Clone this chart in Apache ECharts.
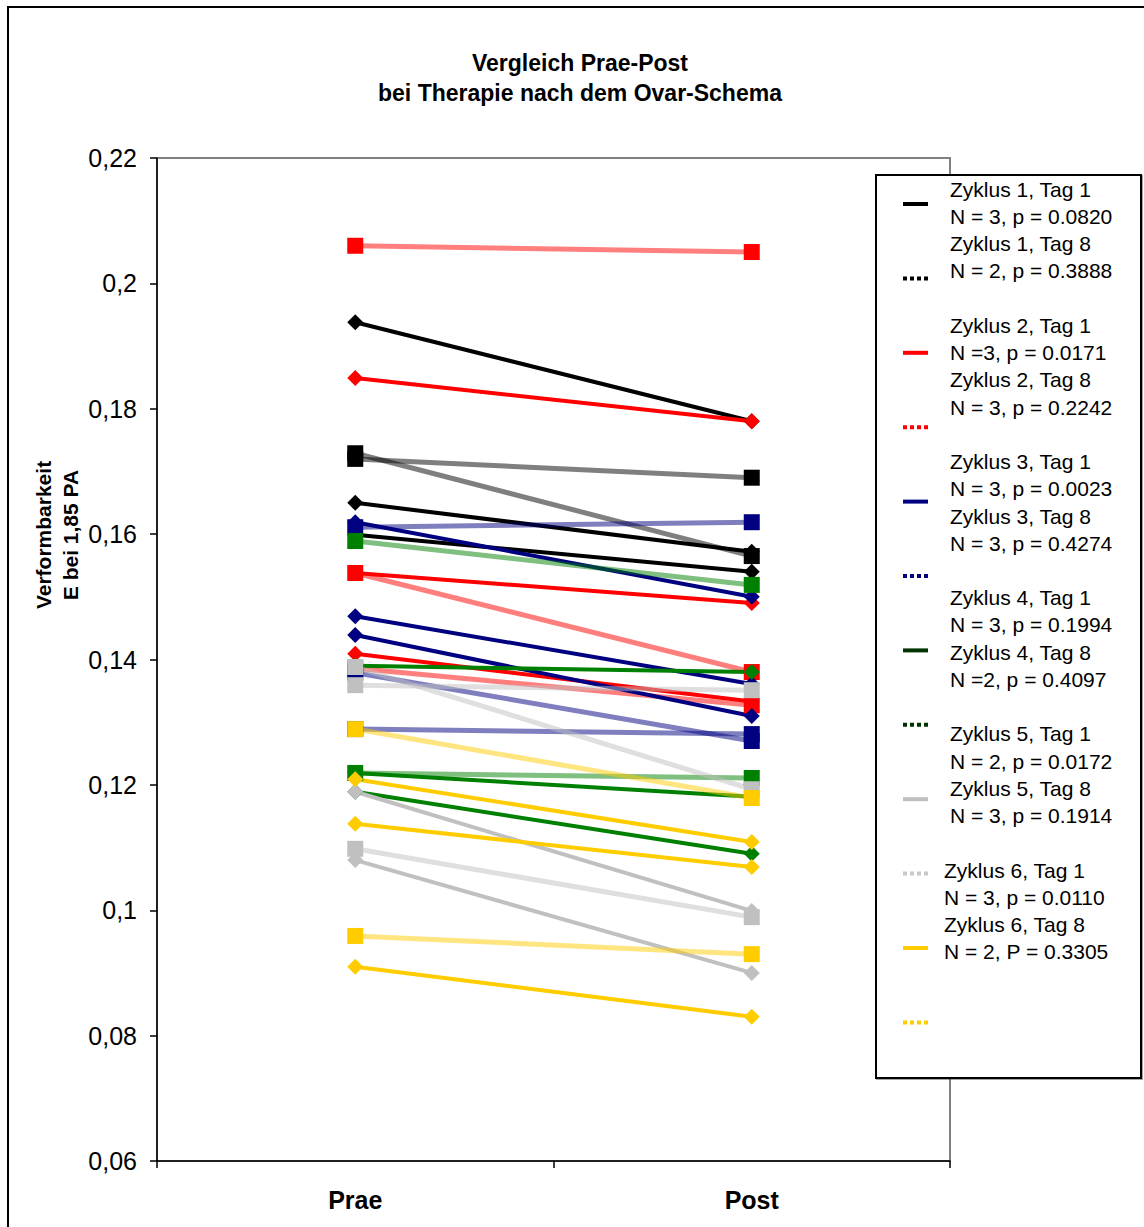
<!DOCTYPE html>
<html><head><meta charset="utf-8">
<script src="https://cdn.jsdelivr.net/npm/echarts@6/dist/echarts.min.js"></script>
<style>html,body{margin:0;padding:0;background:#fff}#c{width:1144px;height:1227px}</style>
</head><body><div id="c"></div>
<script>
// ---------- data ----------
const categories = ['Prae', 'Post'];
const yTickLabels = ['0,06', '0,08', '0,1', '0,12', '0,14', '0,16', '0,18', '0,2', '0,22'];
const legendNames = [
  'Zyklus 1, Tag 1', 'Zyklus 1, Tag 8',
  'Zyklus 2, Tag 1', 'Zyklus 2, Tag 8',
  'Zyklus 3, Tag 1', 'Zyklus 3, Tag 8',
  'Zyklus 4, Tag 1', 'Zyklus 4, Tag 8',
  'Zyklus 5, Tag 1', 'Zyklus 5, Tag 8',
  'Zyklus 6, Tag 1', 'Zyklus 6, Tag 8'
];
const legendStats = [
  'N = 3, p = 0.0820', 'N = 2, p = 0.3888',
  'N =3, p = 0.0171', 'N = 3, p = 0.2242',
  'N = 3, p = 0.0023', 'N = 3, p = 0.4274',
  'N = 3, p = 0.1994', 'N =2, p = 0.4097',
  'N = 2, p = 0.0172', 'N = 3, p = 0.1914',
  'N = 3, p = 0.0110', 'N = 2, P = 0.3305'
];
// each pair = [Prae, Post]
const z1t1 = [[0.1938, 0.1780], [0.1650, 0.1572], [0.1599, 0.1540]];
const z1t8 = [[0.1729, 0.1565], [0.1720, 0.1690]];
const z2t1 = [[0.1849, 0.1780], [0.1538, 0.1490], [0.1409, 0.1333]];
const z2t8 = [[0.2060, 0.2050], [0.1538, 0.1380], [0.1386, 0.1327]];
const z3t1 = [[0.1619, 0.1500], [0.1469, 0.1361], [0.1439, 0.1310]];
const z3t8 = [[0.1611, 0.1619], [0.1379, 0.1270], [0.1289, 0.1281]];
const z4t1 = [[0.1390, 0.1380], [0.1219, 0.1181], [0.1189, 0.1090]];
const z4t8 = [[0.1589, 0.1519], [0.1219, 0.1211]];
const z5t1 = [[0.1189, 0.0999], [0.1080, 0.0900]];
const z5t8 = [[0.1388, 0.1193], [0.1359, 0.1351], [0.1098, 0.0989]];
const z6t1 = [[0.1209, 0.1109], [0.1138, 0.1069], [0.0910, 0.0830]];
const z6t8 = [[0.1289, 0.1179], [0.0959, 0.0930]];

const groups = [z1t1, z1t8, z2t1, z2t8, z3t1, z3t8, z4t1, z4t8, z5t1, z5t8, z6t1, z6t8];

// ---------- styles ----------
const cycleColors = ['#000000', '#FF0000', '#000080', '#008000', '#C0C0C0', '#FFCC00'];
const legendColors = ['#000000', '#000000', '#FF0000', '#FF0000', '#000080', '#000080',
                      '#003300', '#003300', '#C0C0C0', '#C8C8C8', '#FFCC00', '#FFCC00'];
const FONT = "'Liberation Sans', Arial, sans-serif";
const solidIcon = 'rect';
const dottedIcon = 'path://M0 0h4v4h-4z M7 0h4v4h-4z M14 0h4v4h-4z M21 0h4v4h-4z';

const series = [];
groups.forEach((pairs, g) => {
  const tag8 = g % 2 === 1;
  const color = cycleColors[Math.floor(g / 2)];
  pairs.forEach(pair => {
    series.push({
      type: 'line',
      name: legendNames[g],
      data: pair,
      symbol: tag8 ? 'rect' : 'diamond',
      symbolSize: tag8 ? 16 : 16,
      showAllSymbol: true,
      itemStyle: { color: color, opacity: 1 },
      lineStyle: { color: color, width: tag8 ? 5 : 4, opacity: tag8 ? 0.5 : 1 },
      emphasis: { disabled: true },
      silent: true,
      animation: false
    });
  });
});

// legend text blocks (real text)
const legendTextEls = [];
for (let b = 0; b < 6; b++) {
  const txt = [legendNames[2 * b], legendStats[2 * b], legendNames[2 * b + 1], legendStats[2 * b + 1]].join('\n');
  legendTextEls.push({
    type: 'text', x: b === 5 ? 944 : 950, y: 175.4 + b * 136.2, z: 10,
    style: { text: txt, font: '21px ' + FONT, lineHeight: 27.3, fill: '#000', align: 'left', verticalAlign: 'top' }
  });
}

const chart = echarts.init(document.getElementById('c'), null, { renderer: 'svg' });
chart.setOption({
  backgroundColor: '#ffffff',
  animation: false,
  grid: { left: 157, top: 158, right: 194, bottom: 66, show: true, borderColor: '#808080', borderWidth: 2, backgroundColor: '#fff' },
  xAxis: {
    type: 'category', data: categories, boundaryGap: true,
    axisLine: { show: true, lineStyle: { color: '#000', width: 1.5 } },
    axisTick: { show: true, interval: 0, alignWithLabel: false, length: 7, lineStyle: { color: '#000', width: 1.5 } },
    axisLabel: { interval: 0, margin: 26, color: '#000', fontSize: 25, fontWeight: 'bold', fontFamily: FONT },
    splitLine: { show: false }
  },
  yAxis: {
    type: 'value', min: 0.06, max: 0.22, interval: 0.02,
    axisLine: { show: true, lineStyle: { color: '#000', width: 1.5 } },
    axisTick: { show: true, length: 7, lineStyle: { color: '#000', width: 1.5 } },
    axisLabel: { margin: 20, color: '#000', fontSize: 25, fontFamily: FONT,
      formatter: v => yTickLabels[Math.round((v - 0.06) / 0.02)] },
    splitLine: { show: false }
  },
  legend: {
    show: true, orient: 'vertical', left: 903, top: 202, padding: 0,
    itemWidth: 25, itemHeight: 4, itemGap: 70.4,
    selectedMode: false,
    formatter: () => '',
    textStyle: { fontSize: 4, lineHeight: 4 },
    data: legendNames.map((n, i) => ({
      name: n,
      icon: i % 2 === 0 ? solidIcon : dottedIcon,
      itemStyle: { color: legendColors[i], opacity: 1 }
    }))
  },
  graphic: [
    { type: 'rect', shape: { x: 8, y: 7, width: 1200, height: 1300 }, z: -10,
      style: { fill: 'none', stroke: '#000', lineWidth: 2 } },
    { type: 'rect', shape: { x: 876, y: 175, width: 265, height: 903 }, z: 1,
      style: { fill: '#fff', stroke: '#000', lineWidth: 2, shadowColor: 'rgba(0,0,0,0.35)', shadowOffsetX: 1, shadowOffsetY: 1, shadowBlur: 0 } },
    { type: 'text', x: 580, y: 48, z: 10,
      style: { text: 'Vergleich Prae-Post\nbei Therapie nach dem Ovar-Schema', font: 'bold 23px ' + FONT,
        lineHeight: 30, fill: '#000', align: 'center', verticalAlign: 'top' } },
    { type: 'text', x: 56.5, y: 535, rotation: Math.PI / 2, z: 10,
      style: { text: 'Verformbarkeit\nE bei 1,85 PA', font: 'bold 21px ' + FONT,
        lineHeight: 27, fill: '#000', align: 'center', verticalAlign: 'middle' } }
  ].concat(legendTextEls),
  series: series
});
</script>
</body></html>
